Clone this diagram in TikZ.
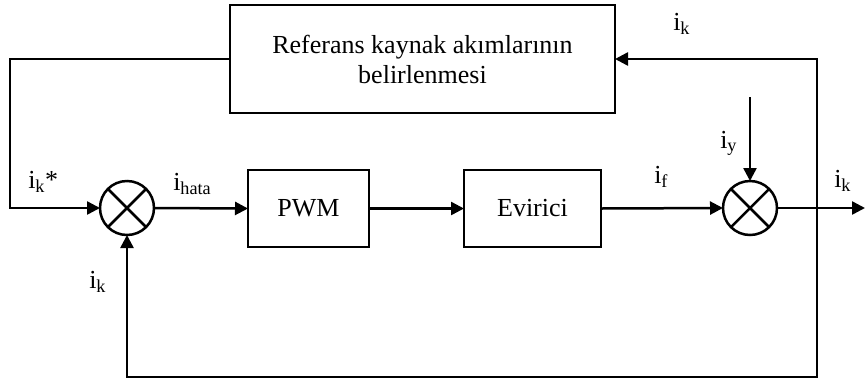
\documentclass[tikz,border=0pt]{standalone}
\usepackage{fontspec}
\setmainfont{Liberation Serif}
\usetikzlibrary{arrows.meta}
\begin{document}
\begin{tikzpicture}[x=1pt,y=-1pt,
  line width=2.5pt,
  font=\fontsize{26}{30}\selectfont,
  block/.style={draw, inner sep=0pt, outer sep=0pt, align=center},
  summer/.style={draw, circle, minimum size=54pt, inner sep=0pt, outer sep=0pt,
    path picture={\draw[line width=2.5pt]
      (path picture bounding box.south west) -- (path picture bounding box.north east)
      (path picture bounding box.north west) -- (path picture bounding box.south east);}},
  sig/.style={-{Triangle[length=13pt,width=13pt]}},
  lbl/.style={anchor=base west, inner sep=0pt}]
\useasboundingbox (0,0) rectangle (866,381);

% blocks
\node[block, minimum width=385pt, minimum height=108pt] (ref) at (422.5,59)
  {Referans kaynak akımlarının\\belirlenmesi};
\node[block, minimum width=121pt, minimum height=77pt] (pwm) at (308.5,208.5) {PWM};
\node[block, minimum width=137pt, minimum height=77pt] (evr) at (532.5,208.5) {Evirici};

% summing junctions
\node[summer] (s1) at (127,208) {};
\node[summer] (s2) at (750,208) {};

% helper points of the connectors
\coordinate (lc) at (10,208);
\coordinate (fb) at (817,208);
\coordinate (bc) at (817,377);
\coordinate (out) at (865,208);
\coordinate (iy) at (750,97);

% signal flow
\draw[sig] (ref.west) -| (lc) -- (s1.west);
\draw[sig] (s1.east) -- (pwm.west);
\draw[sig] (pwm.east) -- (evr.west);
\draw[sig] (evr.east) -- (s2.west);
\draw[sig] (s2.east) -- (out);
\draw[sig] (iy) -- (s2.north);
\draw[sig] (fb) |- (ref.east);
\draw[sig] (fb) -- (bc) -| (s1.south);

% signal labels
\node[lbl] (l1) at (27,188) {i\textsubscript{k}*};
\node[lbl] (l2) at (172,190) {i\textsubscript{hata}};
\node[lbl] (l3) at (672,30) {i\textsubscript{k}};
\node[lbl] (l4) at (88,288) {i\textsubscript{k}};
\node[lbl] (l5) at (719,148) {i\textsubscript{y}};
\node[lbl] (l6) at (653,183) {i\textsubscript{f}};
\node[lbl] (l7) at (833,187) {i\textsubscript{k}};
\end{tikzpicture}
\end{document}
